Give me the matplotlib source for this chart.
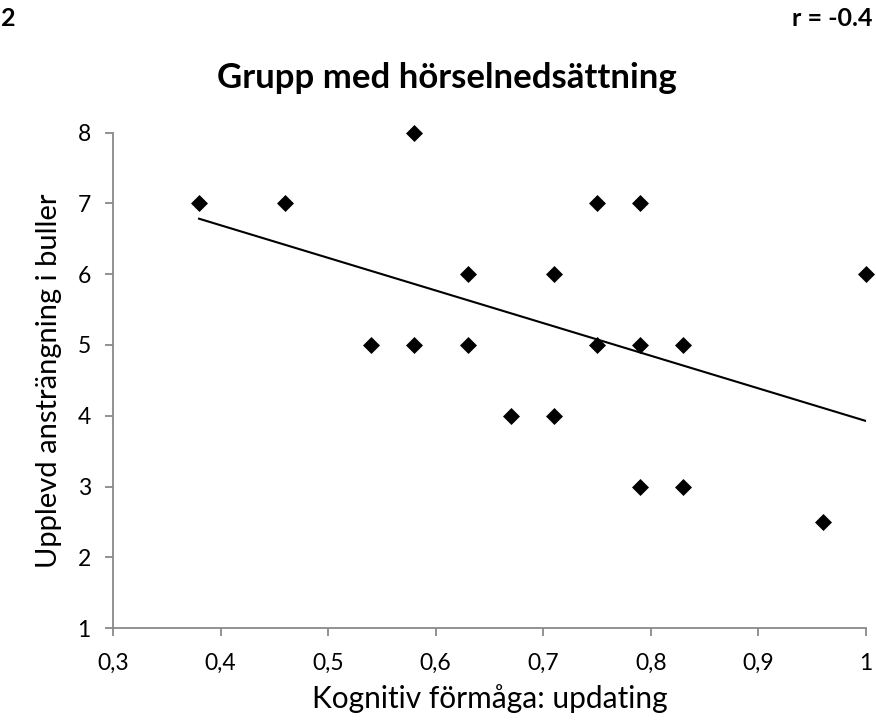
import numpy as np
import matplotlib.pyplot as plt

# data
x_upd = [0.38, 0.46, 0.58, 0.54, 0.58, 0.63, 0.63, 0.67, 0.71, 0.71,
         0.75, 0.75, 0.79, 0.79, 0.79, 0.83, 0.83, 0.96, 1.00]
y_anstr = [7, 7, 8, 5, 5, 6, 5, 4, 6, 4,
           7, 5, 7, 5, 3, 5, 3, 2.5, 6]
x_ticks = [0.3, 0.4, 0.5, 0.6, 0.7, 0.8, 0.9, 1.0]
x_ticklabels = ['0,3', '0,4', '0,5', '0,6', '0,7', '0,8', '0,9', '1']
y_ticks = [1, 2, 3, 4, 5, 6, 7, 8]

plt.rcParams['font.family'] = ['Lato', 'DejaVu Sans']
grey = '#898989'

fig = plt.figure(figsize=(8.76, 7.23), dpi=100)
ax = fig.add_axes([0.129, 0.131, 0.8596, 0.6857])

ax.scatter(x_upd, y_anstr, marker='D', s=75, color='black', zorder=3,
           linewidths=0, clip_on=False)

# linjär trendlinje
k, m = np.polyfit(x_upd, y_anstr, 1)
xl = np.array([min(x_upd), max(x_upd)])
ax.plot(xl, k * xl + m, color='black', lw=1.5, zorder=2)

ax.set_xlim(0.3, 1.0)
ax.set_ylim(1, 8)
ax.set_xticks(x_ticks)
ax.set_xticklabels(x_ticklabels)
ax.set_yticks(y_ticks)
ax.tick_params(axis='both', direction='out', length=6, width=1.3, color=grey,
               labelsize=16.5)
ax.tick_params(axis='x', pad=12)
ax.tick_params(axis='y', pad=10)
for s in ['top', 'right']:
    ax.spines[s].set_visible(False)
for s in ['left', 'bottom']:
    ax.spines[s].set_color(grey)
    ax.spines[s].set_linewidth(1.3)
    ax.spines[s].set_clip_on(False)

ax.set_xlabel('Kognitiv förmåga: updating', fontsize=21.5, labelpad=7)
ax.set_ylabel('Upplevd ansträngning i buller', fontsize=21, labelpad=11)
ax.set_title('Grupp med hörselnedsättning', fontsize=25, fontweight='bold',
             pad=32, x=0.444)

fig.text(0.001, 0.99, '2', fontsize=18, fontweight='bold', va='top', ha='left')
fig.text(0.996, 0.99, 'r = -0.4', fontsize=18, fontweight='bold', va='top', ha='right')

fig.savefig('out.png', dpi=100)
